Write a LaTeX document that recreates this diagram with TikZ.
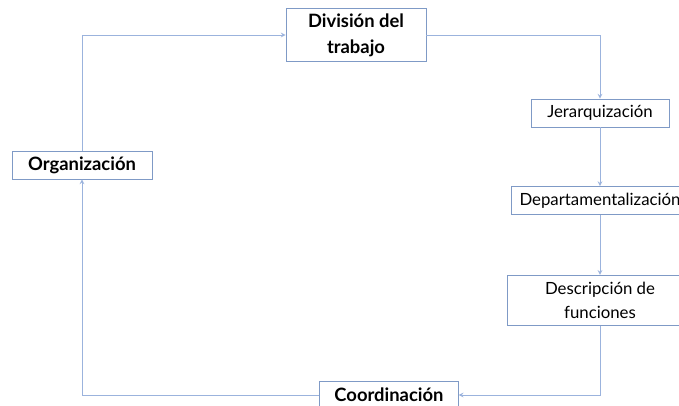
\documentclass[tikz,border=0pt]{standalone}
\usepackage{fontspec}
\setmainfont{Lato}
\usepackage{tikz}
\usetikzlibrary{arrows,calc,positioning}
\definecolor{linkblue}{HTML}{9BB3DD}
\definecolor{boxblue}{HTML}{7F9AC6}
\tikzstyle{stage}=[rectangle, draw=boxblue, line width=0.6pt, fill=white, align=center,
  inner sep=2pt, font=\fontsize{12.6}{18}\selectfont, minimum height=21pt]
\tikzstyle{heavy}=[font=\bfseries\fontsize{13.8}{19.5}\selectfont]
\tikzstyle{link}=[draw=linkblue, line width=0.6pt, -stealth]

\begin{document}
\begin{tikzpicture}[x=0.75pt, y=-0.75pt]
  \useasboundingbox (0,0) rectangle (679,406);
  % left and top
  \node[stage, heavy, minimum width=105pt, minimum height=40pt]
    (division) at (356,35) {Divisi\'on del\\ trabajo};
  \node[stage, heavy, minimum width=105pt] (organizacion) at (82,165) {Organizaci\'on};
  % right column
  \node[stage, minimum width=103.5pt] (jerarquia) at (600,113) {Jerarquizaci\'on};
  \node[stage, minimum width=133.5pt, below=44pt of jerarquia]
    (departamentos) {Departamentalizaci\'on};
  \node[stage, minimum width=139.5pt, minimum height=37.5pt, below=45pt of departamentos]
    (funciones) {Descripci\'on de\\ funciones};
  % bottom
  \node[stage, heavy, minimum width=104pt] (coordinacion) at (389,395) {Coordinaci\'on};
  % lines
  \draw[link] (organizacion.north) |- (division.west);
  \draw[link] (division.east) -| (jerarquia.north);
  \draw[link] (jerarquia) -- (departamentos);
  \draw[link] (departamentos) -- (funciones);
  \draw[link] (funciones.south) |- (coordinacion.east);
  \draw[link] (coordinacion.west) -| (organizacion.south);
\end{tikzpicture}
\end{document}
